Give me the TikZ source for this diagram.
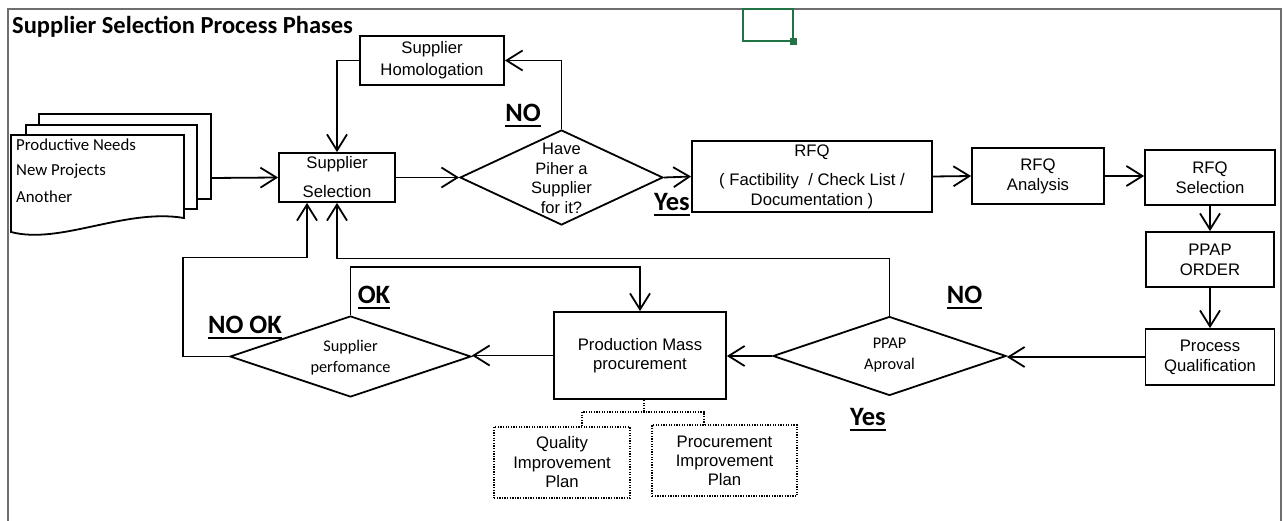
\documentclass[tikz,border=0pt]{standalone}
\usepackage{fontspec}
\setmainfont{Liberation Sans}
\newfontfamily\calibri{Carlito}
\usetikzlibrary{arrows.meta,shapes.geometric,calc}
\definecolor{xlgreen}{RGB}{33,115,70}
\definecolor{framegray}{RGB}{110,110,110}
\newcommand\ulx[1]{\setbox0\hbox{#1}\rlap{\rule[-5.5pt]{\wd0}{2pt}}\box0}
\begin{document}
\begin{tikzpicture}[x=1pt,y=-1pt,
 lw/.style={line width=1.8pt},
 box/.style={draw,lw,fill=white,inner sep=0pt,align=center,font=\fontsize{16.7}{20}\selectfont},
 dbox/.style={draw,line width=1.6pt,dash pattern=on 1.3pt off 1.3pt,inner sep=0pt,align=center,font=\fontsize{16.7}{19.5}\selectfont},
 dline/.style={line width=1.6pt,dash pattern=on 1.3pt off 1.3pt},
 dia/.style={draw,lw,diamond,inner sep=0pt,fill=white},
 sz/.style 2 args={minimum width=#1pt,minimum height=#2pt},
 arr/.style={lw,-{Straight Barb[length=16pt,width=20pt]}},
 ariallbl/.style={align=center,font=\fontsize{16.5}{19.7}\selectfont},
 callbl/.style={align=center,font=\calibri\fontsize{16.3}{21}\selectfont},
 doctxt/.style={anchor=west,inner sep=0pt,font=\calibri\fontsize{16.8}{20}\selectfont},
 yn/.style={anchor=base,inner sep=0pt,font=\calibri\bfseries\fontsize{26.5}{30}\selectfont}]
\useasboundingbox (0,0) rectangle (1284,521);
% frame
\draw[framegray,line width=2pt] (8,521) -- (8,9) -- (1281,9) -- (1281,521);
% excel cell marker
\draw[xlgreen,line width=2pt] (743,9) rectangle (793,41);
\fill[xlgreen] (790,38) rectangle (797,45);
% title
\node[anchor=base west,inner sep=0pt,font=\calibri\bfseries\fontsize{24.5}{28}\selectfont] (title) at (12,34) {Supplier Selection Process Phases};
% document stack
\draw[lw,fill=white] (39,114) rectangle (211,199);
\draw[lw,fill=white] (26,125) rectangle (197,209);
\draw[lw,fill=white] (11,135) -- (184,135) -- (184,218) .. controls (125,208) and (60,245) .. (11,232) -- cycle;
\node[doctxt] (dt1) at (16,145) {Productive Needs};
\node[doctxt] (dt2) at (16,171) {New Projects};
\node[doctxt] (dt3) at (16,197) {Another};
\coordinate (docR) at (211,178);
% boxes
\node[box,sz={144}{49}] (H) at (432,60.5) {Supplier\\[2pt]Homologation};
\node[box,sz={116}{49}] (SS) at (337,177.5) {Supplier\\[9pt]Selection};
\node[box,sz={240}{71},font=\fontsize{16.7}{19.5}\selectfont] (RFQ) at (812,176.5) {RFQ\\[10pt]( Factibility\ \ / Check List /\\Documentation )};
\node[box,sz={132}{56}] (RA) at (1038,176) {RFQ\\Analysis};
\node[box,sz={130}{55}] (RS) at (1210,177.5) {RFQ\\Selection};
\node[box,sz={128}{55}] (PO) at (1210,259.5) {PPAP\\ORDER};
\node[box,sz={129}{56}] (PQ) at (1210,357) {Process\\Qualification};
\node[box,sz={172}{87},font=\fontsize{16.7}{19}\selectfont] (PM) at (640,355.5) {Production Mass\\procurement};
\node[dbox,sz={136}{71}] (Q) at (562,462.5) {Quality\\Improvement\\Plan};
\node[dbox,sz={145}{71},font=\fontsize{16.7}{19}\selectfont] (P) at (724.5,460.5) {Procurement\\Improvement\\Plan};
% diamonds
\node[dia,sz={203}{95}] (D1) at (561.5,177.5) {};
\node[ariallbl] (D1t) at (561.5,178.5) {Have\\Piher a\\Supplier\\for it?};
\node[dia,sz={233}{79}] (D2) at (889.5,356) {};
\node[callbl] (D2t) at (889.5,355.5) {PPAP\\Aproval};
\node[dia,sz={241}{81}] (D3) at (350.5,356.5) {};
\node[callbl] (D3t) at (350.5,357.5) {Supplier\\perfomance};
% labels
\node[yn] (l1) at (523,121.5) {\ulx{NO}};
\node[yn] (l2) at (672,211) {\ulx{Yes}};
\node[yn] (l3) at (964.5,303.5) {\ulx{NO}};
\node[yn] (l4) at (868,425.5) {\ulx{Yes}};
\node[yn] (l5) at (245,333.5) {\ulx{NO OK}};
\node[yn] (l6) at (374,303.5) {\ulx{OK}};
% connectors
\draw[arr] (docR) -- (SS.west);
\draw[arr] (SS.east) -- (D1.west);
\draw[arr] (D1.east) -- (RFQ.west);
\draw[arr] (D1.north) |- (H.east);
\draw[arr] (H.west) -| (SS.north);
\draw[arr] (RFQ.east) -- (RA.west);
\draw[arr] (RA.east) -- (RA.east -| RS.west);
\draw[arr] (RS.south) -- (PO.north);
\draw[arr] (PO.south) -- (PQ.north);
\draw[arr] (PQ.west) -- (PQ.west -| D2.east);
\draw[arr] (D2.west) -- (D2.west -| PM.east);
\draw[arr] (PM.west) -- (PM.west -| D3.east);
\draw[arr] (D3.north) -- ++(0,-48) -| (PM.north);
\draw[arr] (D3.west) -| ++(-46,-99) -| ([xshift=-30pt]SS.south);
\draw[arr] (D2.north) -- ++(0,-57) -| (SS.south);
\coordinate (dj) at ($(PM.south)+(4,12)$);
\draw[dline] ([xshift=4pt]PM.south) -- (dj);
\draw[dline] ([xshift=20pt]Q.north) |- (dj) -| ([xshift=-20.5pt]P.north);
\end{tikzpicture}
\end{document}
